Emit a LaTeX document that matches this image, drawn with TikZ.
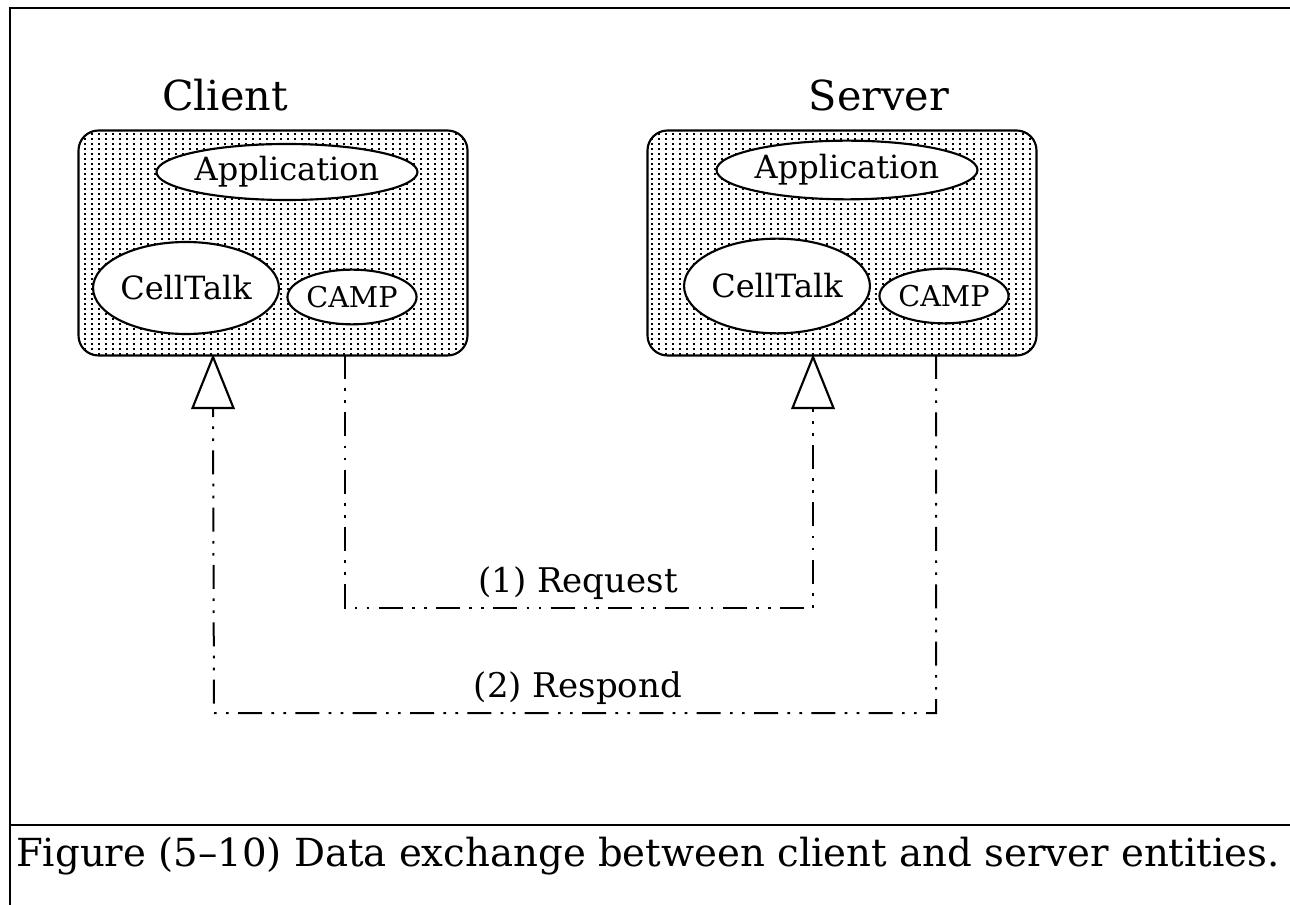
\documentclass[tikz,border=0pt]{standalone}
\usepackage{fontspec}
\setmainfont{DejaVu Serif}
\usetikzlibrary{shapes.geometric,patterns}
\pgfdeclarepatternformonly{vdots}{\pgfqpoint{0pt}{0pt}}{\pgfqpoint{1.8pt}{1.8pt}}{\pgfqpoint{5.25pt}{3.75pt}}{\pgfpathrectangle{\pgfqpoint{0pt}{0pt}}{\pgfqpoint{1.7pt}{1.7pt}}\pgfusepath{fill}}
\begin{document}
\begin{tikzpicture}[x=0.75pt,y=-0.75pt,line width=1.6pt,
  entity/.style={draw, rounded corners=15pt, pattern=vdots, minimum width=291.75pt, minimum height=168.75pt, inner sep=0pt},
  part/.style={draw, ellipse, fill=white, inner sep=0pt, font=\fontsize{24}{28}\selectfont},
  smallpart/.style={part, font=\fontsize{21.5}{26}\selectfont},
  title/.style={font=\fontsize{31}{36}\selectfont},
  flowlabel/.style={font=\fontsize{25.5}{30}\selectfont},
  flow/.style={line width=1.5pt, dash pattern=on 18pt off 7pt on 2pt off 7pt on 2pt off 7pt},
  tri/.style={draw, fill=white, line width=1.6pt, line join=miter}]
\useasboundingbox (0,0) rectangle (1290,905);
% frame
\draw (1290,8) -- (10,8) -- (10,905);
\draw (10,825) -- (1290,825);
% titles
\node[title] (tclient) at (225,95) {Client};
\node[title] (tserver) at (879,95) {Server};
% entity boxes
\node[entity] (cbox) at (273,243) {};
\node[entity] (sbox) at (842,243) {};
% client parts
\node[part, minimum width=175pt, minimum height=42pt] (capp) at (287,172) {Application};
\node[part, minimum width=114pt, minimum height=69pt] (ccell) at (186,288) {CellTalk};
\node[smallpart, minimum width=91.5pt, minimum height=41pt] (ccamp) at (352,297) {CAMP};
% server parts
\node[part, minimum width=175pt, minimum height=44pt] (sapp) at (847,170) {Application};
\node[part, minimum width=115pt, minimum height=71pt] (scell) at (777,286) {CellTalk};
\node[smallpart, minimum width=92pt, minimum height=41pt] (scamp) at (944,296) {CAMP};
% triangles (arrow heads)
\coordinate (ctip) at (213,357);
\coordinate (cbase) at (213,408);
\coordinate (stip) at (813,357);
\coordinate (sbase) at (813,408);
\draw[tri] (ctip) -- ++(-20.5,51) -- ++(41,0) -- cycle;
\draw[tri] (stip) -- ++(-20.5,51) -- ++(41,0) -- cycle;
% connector points
\coordinate (reqA) at (345,355);
\coordinate (reqB) at (345,608);
\coordinate (reqC) at (813,608);
\coordinate (resA) at (936,355);
\coordinate (resB) at (936,713);
\coordinate (resC) at (214,713);
% request: client CAMP -> server CellTalk
\draw[flow] (reqA) -- (reqB) -- (reqC) -- (sbase);
% respond: server CAMP -> client CellTalk
\draw[flow] (resA) -- (resB) -- (resC) -- (cbase);
\node[flowlabel] (lreq) at (578,583) {(1) Request};
\node[flowlabel] (lres) at (578,688) {(2) Respond};
% caption
\node[anchor=base west, inner sep=0pt, font=\fontsize{29}{34}\selectfont] (cap) at (15,866) {Figure (5–10) Data exchange between client and server entities.};
\end{tikzpicture}
\end{document}
